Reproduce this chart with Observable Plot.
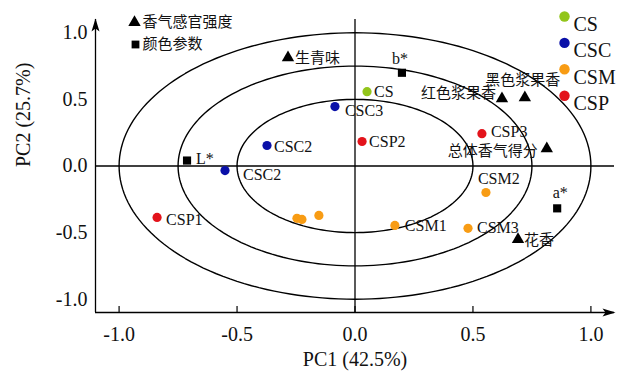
<!DOCTYPE html>
<html><head><meta charset="utf-8">
<script src="https://cdn.jsdelivr.net/npm/d3@7"></script>
<script src="https://cdn.jsdelivr.net/npm/@observablehq/plot@0.6"></script>
<style>body{margin:0;background:#fff} svg{display:block;background:#fff}</style>
</head><body><div id="chart"></div>
<script>
// ---------- data ----------
const groups = ["CS", "CSC", "CSM", "CSP"];
const groupColors = ["#92c51b", "#0a10a8", "#f89c14", "#e3131b"];

const sampleNames  = ["CS", "CSC3", "CSC2", "CSC2", "CSP2", "CSP3", "CSP1", "", "", "", "CSM2", "CSM1", "CSM3"];
const sampleGroups = ["CS", "CSC", "CSC", "CSC", "CSP", "CSP", "CSP", "CSM", "CSM", "CSM", "CSM", "CSM", "CSM"];
const sampleX = [0.051, -0.085, -0.373, -0.551, 0.030, 0.538, -0.839, -0.246, -0.225, -0.153, 0.555, 0.169, 0.479];
const sampleY = [0.558, 0.446, 0.154, -0.034, 0.184, 0.243, -0.386, -0.393, -0.401, -0.371, -0.199, -0.446, -0.468];

const aromaNames = ["生青味", "红色浆果香", "黑色浆果香", "总体香气得分", "花香"];
const aromaX = [-0.284, 0.623, 0.720, 0.813, 0.691];
const aromaY = [0.813, 0.506, 0.513, 0.131, -0.551];

const colorNames = ["b*", "L*", "a*"];
const colorX = [0.199, -0.712, 0.857];
const colorY = [0.700, 0.041, -0.318];

const circleRadii = [0.5, 0.75, 1.0];
const axisTicks = [-1.0, -0.5, 0.0, 0.5, 1.0];
const legendTitles = ["香气感官强度", "颜色参数"];
const xTitle = "PC1 (42.5%)";
const yTitle = "PC2 (25.7%)";

// ---------- layout (label placement, not data) ----------
const sampleLabelPos = [[7,0],[10,4],[7,1],[18,4],[7,0],[9,-2],[9,2],null,null,null,[-8,-14],[10,0],[9,0]];
const aromaLabelPos = [[7,0,"start"],[-6,-5,"end"],[-2,-17,"middle"],[-9,2.5,"end"],[6,1,"start"]];
const colorLabelPos = [[-2,-14,"middle"],[9,-2,"start"],[3,-15,"middle"]];

const serif = "'Liberation Serif', 'Times New Roman', serif";
const cjk = "'Noto Sans CJK SC', sans-serif";

const samples = sampleNames.map((n, i) => ({name: n, group: sampleGroups[i], x: sampleX[i], y: sampleY[i]}));
const aromas = aromaNames.map((n, i) => ({name: n, x: aromaX[i], y: aromaY[i]}));
const colorsP = colorNames.map((n, i) => ({name: n, x: colorX[i], y: colorY[i]}));

const ellipses = circleRadii.flatMap(r => d3.range(0, 361, 2).map(a => ({
  r, x: r * Math.cos(a * Math.PI / 180), y: r * Math.sin(a * Math.PI / 180)
})));

const lo = -1.1, hi = 1.1;

const arrowRight = {draw(ctx) { ctx.moveTo(1, 0); ctx.lineTo(-12, -4); ctx.lineTo(-9, 0); ctx.lineTo(-12, 4); ctx.closePath(); }};
const arrowUp = {draw(ctx) { ctx.moveTo(0, -1); ctx.lineTo(-4, 12); ctx.lineTo(0, 9); ctx.lineTo(4, 12); ctx.closePath(); }};

const marks = [
  // circles
  Plot.line(ellipses, {x: "x", y: "y", z: "r", stroke: "black", strokeWidth: 1.4}),
  // zero lines
  Plot.ruleY([0], {stroke: "black", strokeWidth: 1.3}),
  Plot.ruleX([0], {stroke: "black", strokeWidth: 1.3}),
  // axis lines
  Plot.ruleY([lo], {stroke: "black", strokeWidth: 1.3}),
  Plot.ruleX([lo], {stroke: "black", strokeWidth: 1.3}),
  Plot.dot([0], {x: () => hi, y: () => lo, symbol: arrowRight, fill: "black", stroke: null}),
  Plot.dot([0], {x: () => lo, y: () => hi, symbol: arrowUp, fill: "black", stroke: null}),
  // inward ticks
  Plot.ruleX(axisTicks, {x: d => d, y1: () => lo, y2: () => lo, insetBottom: 6, stroke: "black", strokeWidth: 1.2}),
  Plot.ruleY(axisTicks, {y: d => d, x1: () => lo, x2: () => lo, insetLeft: 6, insetRight: -6, stroke: "black", strokeWidth: 1.2}),
  Plot.axisX(axisTicks, {tickSize: 0, tickPadding: 14, tickFormat: d => d.toFixed(1), fontSize: 20, fontFamily: serif, label: null, fill: "#111"}),
  Plot.axisY(axisTicks, {tickSize: 0, tickPadding: 8, tickFormat: d => d.toFixed(1), fontSize: 20, fontFamily: serif, label: null, fill: "#111"}),
  Plot.text([xTitle], {frameAnchor: "bottom", dy: 53, fontSize: 20, fontFamily: serif, fill: "#111"}),
  Plot.text([yTitle], {frameAnchor: "left", dx: -72, dy: 1, rotate: -90, fontSize: 20, fontFamily: serif, fill: "#111"}),
  // sample points
  Plot.dot(samples, {x: "x", y: "y", fill: "group", r: 4.6, stroke: null}),
  // variable markers
  Plot.dot(aromas, {x: "x", y: "y", symbol: "triangle", r: 4.6, fill: "black", stroke: null}),
  Plot.dot(colorsP, {x: "x", y: "y", symbol: "square", r: 4.6, fill: "black", stroke: null}),
  // labels
  ...samples.map((d, i) => sampleLabelPos[i] ? Plot.text([d], {x: "x", y: "y", text: "name", dx: sampleLabelPos[i][0], dy: sampleLabelPos[i][1], textAnchor: "start", fontSize: 16, fontFamily: serif, fill: "#111"}) : null).filter(Boolean),
  ...aromas.map((d, i) => Plot.text([d], {x: "x", y: "y", text: "name", dx: aromaLabelPos[i][0], dy: aromaLabelPos[i][1], textAnchor: aromaLabelPos[i][2], fontSize: 15, fontFamily: cjk, fill: "#111"})),
  ...colorsP.map((d, i) => Plot.text([d], {x: "x", y: "y", text: "name", dx: colorLabelPos[i][0], dy: colorLabelPos[i][1], textAnchor: colorLabelPos[i][2], fontSize: 16, fontFamily: serif, fill: "#111"})),
  // top-left legend
  Plot.dot([legendTitles[0]], {frameAnchor: "top-left", dx: 39, dy: 3, symbol: "triangle", r: 4.6, fill: "black", stroke: null}),
  Plot.dot([legendTitles[1]], {frameAnchor: "top-left", dx: 40, dy: 25, symbol: "square", r: 4.4, fill: "black", stroke: null}),
  ...legendTitles.map((t, i) => Plot.text([t], {frameAnchor: "top-left", dx: 47, dy: 3 + i * 22, textAnchor: "start", lineAnchor: "middle", fontSize: 15, fontFamily: cjk, fill: "#111"})),
  // right legend
  ...groups.map((g, i) => Plot.dot([g], {frameAnchor: "top-left", dx: 469, dy: -3 + i * 26.4, fill: groupColors[i], r: 5.2, stroke: null})),
  ...groups.map((g, i) => Plot.text([g], {frameAnchor: "top-left", dx: 478, dy: -3 + i * 26.4, textAnchor: "start", fontSize: 20, fontFamily: serif, fill: "#111"}))
];

const chart = Plot.plot({
  width: 619,
  height: 374,
  marginLeft: 95,
  marginRight: 5,
  marginTop: 19,
  marginBottom: 62,
  style: {background: "#fff", overflow: "visible"},
  x: {domain: [lo, hi]},
  y: {domain: [lo, hi]},
  color: {domain: groups, range: groupColors},
  marks
});
document.getElementById("chart").appendChild(chart);
</script>
</body></html>
